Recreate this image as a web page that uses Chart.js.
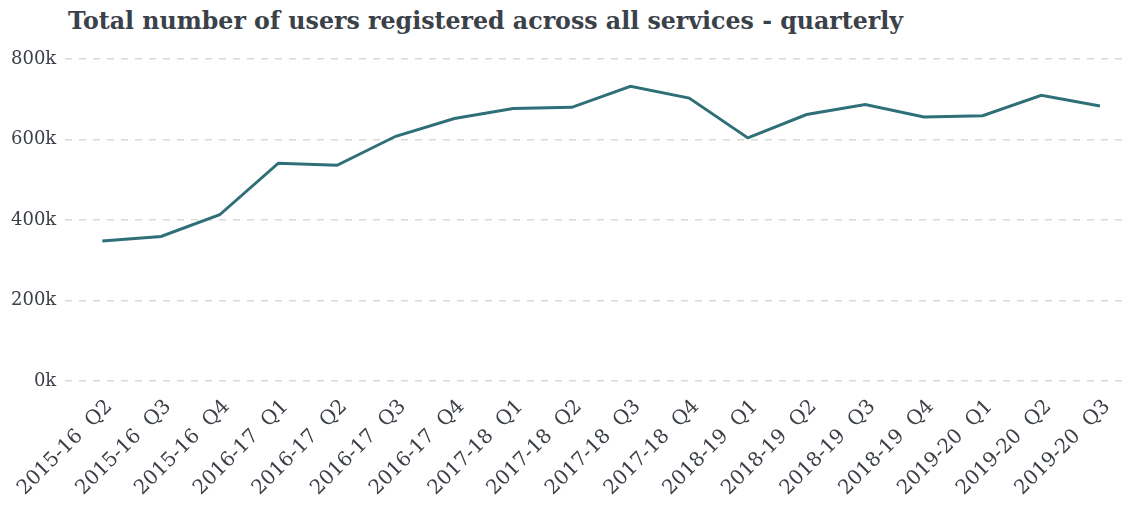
<!DOCTYPE html>
<html>
<head>
<meta charset="utf-8">
<script src="https://cdn.jsdelivr.net/npm/chart.js@4/dist/chart.umd.min.js"></script>
<style>
  html, body { margin: 0; padding: 0; background: #ffffff; }
  #wrap { position: relative; width: 1124px; height: 509px; }
  #title {
    position: absolute; left: 68px; top: 7px;
    font: bold 23.7px "DejaVu Serif", serif;
    color: #3b4149; white-space: nowrap;
  }
  canvas { position: absolute; left: 0; top: 0; }
</style>
</head>
<body>
<div id="wrap">
  <div id="title">Total number of users registered across all services - quarterly</div>
  <canvas id="chart" width="1124" height="509"></canvas>
</div>
<script>
// Financial year and quarter of each reporting period
const years = ['2015-16', '2015-16', '2015-16', '2016-17', '2016-17', '2016-17', '2016-17',
  '2017-18', '2017-18', '2017-18', '2017-18', '2018-19', '2018-19', '2018-19', '2018-19',
  '2019-20', '2019-20', '2019-20'];
const quarters = ['Q2', 'Q3', 'Q4', 'Q1', 'Q2', 'Q3', 'Q4', 'Q1', 'Q2', 'Q3', 'Q4',
  'Q1', 'Q2', 'Q3', 'Q4', 'Q1', 'Q2', 'Q3'];
const periodLabels = years.map((y, i) => y + '  ' + quarters[i]);

// Registered users at the end of each quarter
const registeredUsers = [348000, 359000, 413000, 541000, 536000, 608000, 652000, 677000, 680000,
  732000, 703000, 604000, 662000, 687000, 656000, 659000, 710000, 683000];

// Value-axis ticks
const yTickValues = [0, 200000, 400000, 600000, 800000];

const textColor = '#3c4047';
const serif = '"DejaVu Serif", serif';

new Chart(document.getElementById('chart'), {
  type: 'line',
  data: {
    datasets: [{
      label: 'Registered users',
      data: registeredUsers.map((v, i) => ({ x: i, y: v })),
      borderColor: '#2f6f78',
      borderWidth: 3,
      pointRadius: 0,
      tension: 0,
      fill: false
    }]
  },
  options: {
    responsive: false,
    animation: false,
    layout: { padding: { left: 2, right: 0, top: 59, bottom: 0 } },
    plugins: {
      legend: { display: false },
      tooltip: { enabled: false },
      title: { display: false }
    },
    scales: {
      x: {
        type: 'linear',
        min: -0.631,
        max: 17.409,
        afterBuildTicks: axis => { axis.ticks = periodLabels.map((_, i) => ({ value: i })); },
        // rotated labels may hang past the left edge of the plot
        afterFit: axis => { axis.paddingLeft = 0; axis.paddingRight = 0; axis.height = 128; },
        grid: { display: false, drawTicks: false },
        border: { display: false },
        ticks: {
          autoSkip: false,
          minRotation: 45,
          maxRotation: 45,
          padding: 14,
          labelOffset: 7,
          color: textColor,
          font: { family: serif, size: 20 },
          callback: v => periodLabels[v]
        }
      },
      y: {
        min: 0,
        max: 800000,
        afterBuildTicks: axis => { axis.ticks = yTickValues.map(v => ({ value: v })); },
        grid: { color: '#d5dcd5', lineWidth: 1.5, drawTicks: false },
        border: { display: false, dash: [7, 7] },
        ticks: {
          padding: 9,
          color: textColor,
          font: { family: serif, size: 18 },
          callback: v => (v / 1000) + 'k'
        }
      }
    }
  }
});
</script>
</body>
</html>
